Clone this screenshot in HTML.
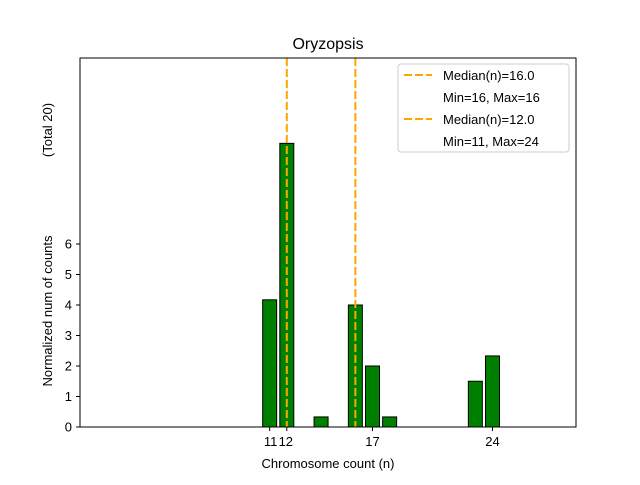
<!DOCTYPE html>
<html><head><meta charset="utf-8"><style>
body{margin:0;background:#fff}
svg text{font-family:"Liberation Sans","DejaVu Sans",sans-serif}
</style></head><body>
<svg id="chart" width="640" height="480" viewBox="0 0 640 480" xmlns="http://www.w3.org/2000/svg">
<rect width="640" height="480" fill="#fff"/>
<text x="328" y="49" font-size="16" text-anchor="middle">Oryzopsis</text>
<g id="bars"></g>
<g id="medians"></g>
<rect x="80" y="58" width="496" height="369" fill="none" stroke="#000" stroke-width="1"/>
<g id="xticks"></g>
<g id="yticks"></g>
<text x="328" y="468" font-size="13" text-anchor="middle">Chromosome count (n)</text>
<text transform="translate(52,311) rotate(-90)" font-size="13" text-anchor="middle">Normalized num of counts</text>
<text transform="translate(52,130) rotate(-90)" font-size="13" text-anchor="middle">(Total 20)</text>
<g>
<rect x="398" y="64" width="171" height="88" rx="3" fill="#fff" stroke="#ccc"/>
<line x1="404" y1="75" x2="432" y2="75" stroke="#FFA500" stroke-width="2" stroke-dasharray="8,3"/>
<text x="443" y="80" font-size="13">Median(n)=16.0</text>
<text x="443" y="102" font-size="13">Min=16, Max=16</text>
<line x1="404" y1="119" x2="432" y2="119" stroke="#FFA500" stroke-width="2" stroke-dasharray="8,3"/>
<text x="443" y="124" font-size="13">Median(n)=12.0</text>
<text x="443" y="146" font-size="13">Min=11, Max=24</text>
</g>
</svg>
<script>
const categories=[11,12,14,16,17,18,23,24];
const values=[4.17,9.3,0.33,4.0,2.0,0.33,1.5,2.33];
const medians=[16,12];
const xTickValues=[11,12,17,24];
const xTickLabels=["11","12","17","24"];
const yTickValues=[0,1,2,3,4,5,6];
const NS="http://www.w3.org/2000/svg";
const x=n=>372.5+(n-17)*17.14;
const y=v=>427-v*30.5;
function mk(t,a,p){const e=document.createElementNS(NS,t);for(const k in a)e.setAttribute(k,a[k]);p.appendChild(e);return e;}
const gb=document.getElementById('bars');
categories.forEach((c,i)=>{
 const r=mk('rect',{x:x(c)-7,y:y(values[i]),width:14,height:values[i]*30.5,fill:'#008000',stroke:'#000','stroke-width':1},gb);
 
 
});
const gm=document.getElementById('medians');
medians.forEach(m=>{
 const l=mk('line',{x1:x(m),x2:x(m),y1:58,y2:427,stroke:'#FFA500','stroke-width':2,'stroke-dasharray':'8,3'},gm);
 
 
});
const gx=document.getElementById('xticks');
xTickValues.forEach((v,i)=>{
 mk('line',{x1:x(v),x2:x(v),y1:427,y2:431,stroke:'#000'},gx);
 let tx=x(v); if(v===11)tx+=1; if(v===12)tx-=1;
 const t=mk('text',{x:tx,y:446,'font-size':13,'text-anchor':'middle'},gx);
 t.textContent=xTickLabels[i];
 
 
});
const gy=document.getElementById('yticks');
yTickValues.forEach(v=>{
 mk('line',{x1:76,x2:80,y1:y(v),y2:y(v),stroke:'#000'},gy);
 const t=mk('text',{x:72,y:y(v)+4.5,'font-size':13,'text-anchor':'end'},gy);
 t.textContent=v;
 
 
});
</script>
</body></html>
